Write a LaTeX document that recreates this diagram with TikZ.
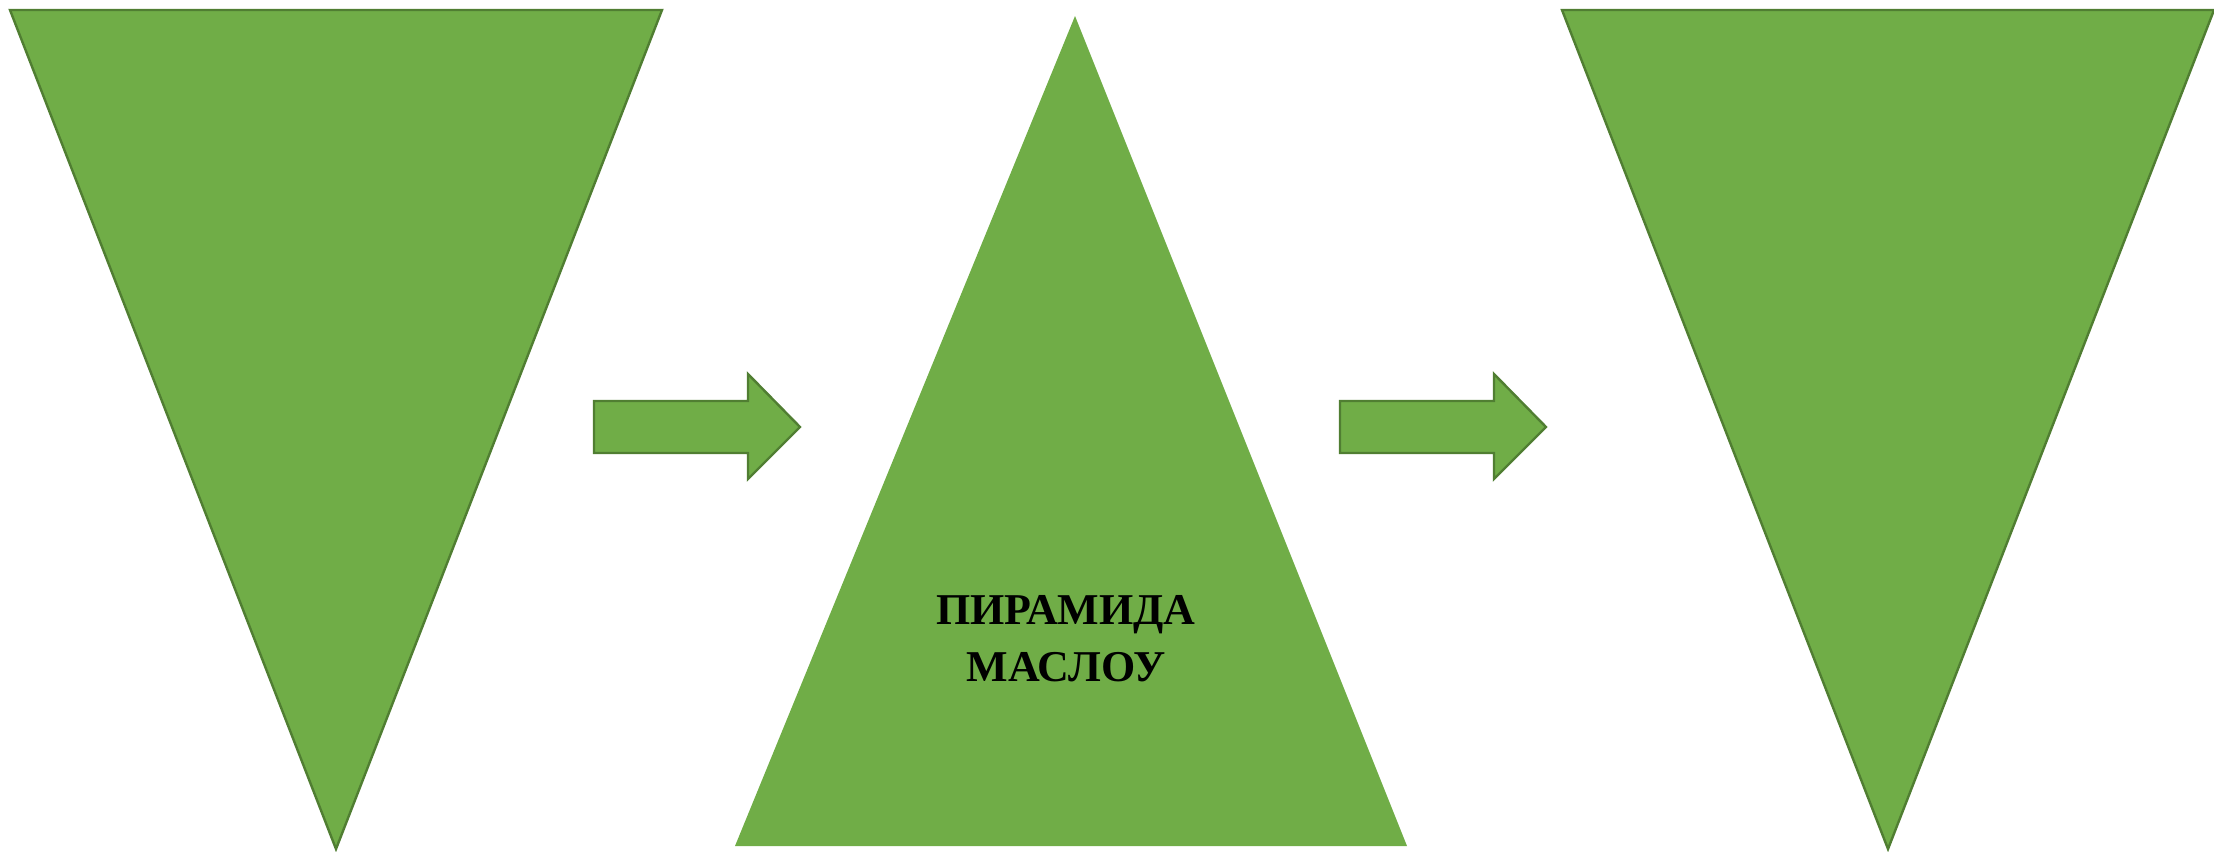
\documentclass[tikz,border=0pt]{standalone}
\usepackage{fontspec}
\setmainfont{Liberation Serif}
\definecolor{gfill}{HTML}{70AD47}
\definecolor{gline}{HTML}{507E32}
\begin{document}
\begin{tikzpicture}[x=0.5pt,y=-0.5pt,
  shapeb/.style={fill=gfill,draw=gline,line width=1.2pt,line join=miter},
  shapen/.style={fill=gfill},
  lbl/.style={font=\bfseries\fontsize{22}{28}\selectfont,align=center,inner sep=0pt}]
\useasboundingbox (0,0) rectangle (2214,851);
% left inverted triangle
\draw[shapeb] (10,10) -- (662,10) -- (336,849) -- cycle;
% middle triangle
\fill[shapen] (1075,16) -- (1407,846) -- (735,846) -- cycle;
% right inverted triangle
\begin{scope}
\clip (0,0) rectangle (2214,851);
\draw[shapeb] (1562,10) -- (2214,10) -- (1888,849) -- cycle;
\end{scope}
% arrow 1
\draw[shapeb] (594,401) -- (748,401) -- (748,374) -- (800,427) -- (748,479) -- (748,453) -- (594,453) -- cycle;
% arrow 2
\draw[shapeb] (1340,401) -- (1494,401) -- (1494,374) -- (1546,427) -- (1494,479) -- (1494,453) -- (1340,453) -- cycle;
\node[lbl,anchor=base] (t1) at (1066,624) {ПИРАМИДА};
\node[lbl,anchor=base] (t2) at (1066,681) {МАСЛОУ};
\end{tikzpicture}
\end{document}
